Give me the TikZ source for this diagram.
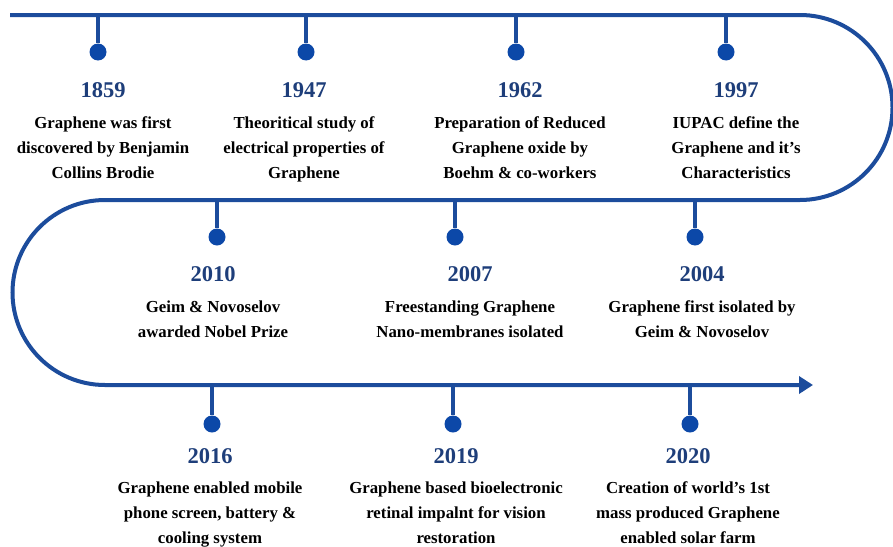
\documentclass[tikz,border=0pt]{standalone}
\usepackage{fontspec}
\setmainfont{Liberation Serif}
\usetikzlibrary{arrows.meta}

\definecolor{lineblue}{RGB}{28,76,156}
\definecolor{dotblue}{RGB}{12,72,168}
\definecolor{yearblue}{RGB}{30,62,122}

\tikzset{
    timeline/.style={draw=lineblue, line width=4pt},
    stem/.style={draw=lineblue, line width=3.5pt},
    dot/.style={circle, fill=dotblue, inner sep=0pt, minimum size=17pt},
    year/.style={text=yearblue, inner sep=0pt,
        font=\fontsize{22.5}{26}\selectfont\bfseries},
    event/.style={align=center, inner sep=0pt,
        font=\fontsize{16.8}{25}\selectfont\bfseries},
}

\begin{document}
\begin{tikzpicture}[x=1pt,y=1pt]
            \useasboundingbox (0,0) rectangle (893,-546);

            % the winding time line
            \draw [timeline, -{Triangle[length=14pt,width=17pt]}]
                (10,-15) -- (800,-15) arc[start angle=90,end angle=-90,radius=92.5]
                -- (105,-200) arc[start angle=90,end angle=270,radius=92.5]
                -- (813,-385);

            % first row, left to right (base = last text line)
            \foreach \n/\dx/\tx/\yr/\txt in {
                    a/98/103/1859/{Graphene was first\\discovered by Benjamin\\Collins Brodie},
                    b/306/304/1947/{Theoritical study of\\electrical properties of\\Graphene},
                    c/516/520/1962/{Preparation of Reduced\\Graphene oxide by\\Boehm \& co-workers},
                    d/726/736/1997/{IUPAC define the\\Graphene and it's\\Characteristics}} {
                \coordinate (s\n) at (\dx,-15);
                \node [dot] (d\n) at (\dx,-52) {};
                \draw [stem] (s\n) -- (d\n);
                \node [year, anchor=base] (y\n) at (\tx,-97) {\yr};
                \node [event, anchor=base] (e\n) at (\tx,-178) {\txt};
            }

            % second row, right to left
            \foreach \n/\dx/\tx/\yr/\txt in {
                    e/695/702/2004/{Graphene first isolated by\\Geim \& Novoselov},
                    f/455/470/2007/{Freestanding Graphene\\Nano-membranes isolated},
                    g/217/213/2010/{Geim \& Novoselov\\awarded Nobel Prize}} {
                \coordinate (s\n) at (\dx,-200);
                \node [dot] (d\n) at (\dx,-237) {};
                \draw [stem] (s\n) -- (d\n);
                \node [year, anchor=base] (y\n) at (\tx,-281) {\yr};
                \node [event, anchor=base] (e\n) at (\tx,-337) {\txt};
            }

            % third row
            \foreach \n/\dx/\tx/\yr/\txt in {
                    h/212/210/2016/{Graphene enabled mobile\\phone screen, battery \&\\cooling system},
                    i/453/456/2019/{Graphene based bioelectronic\\retinal impalnt for vision\\restoration},
                    j/690/688/2020/{Creation of world's 1st\\mass produced Graphene\\enabled solar farm}} {
                \coordinate (s\n) at (\dx,-385);
                \node [dot] (d\n) at (\dx,-424) {};
                \draw [stem] (s\n) -- (d\n);
                \node [year, anchor=base] (y\n) at (\tx,-463) {\yr};
                \node [event, anchor=base] (e\n) at (\tx,-543) {\txt};
            }
\end{tikzpicture}
\end{document}
